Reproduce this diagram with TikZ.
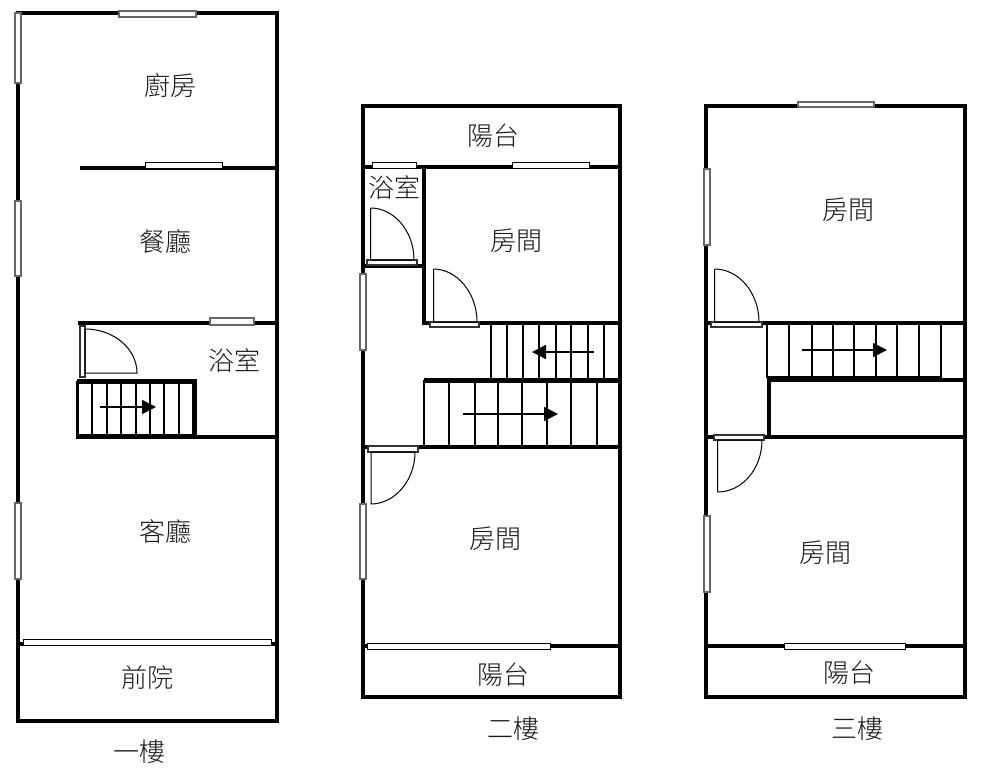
\documentclass[tikz,border=0pt]{standalone}
\usepackage{fontspec}
\newfontfamily\cjk{Noto Sans CJK TC Light}
\usepackage{tikz}
\usetikzlibrary{calc, positioning, arrows.meta}

\tikzset{
    wall/.style={line width=4pt, line cap=rect},
    thickwall/.style={line width=5pt, line cap=butt},
    winbox/.style={draw=black!60, line width=1.5pt, fill=white},
    thinwin/.style={draw=black, line width=0.9pt, fill=white},
    jamb/.style={draw=black!80, line width=1.1pt, fill=white},
    leaf/.style={draw=black, line width=1pt},
    tread/.style={line width=1.8pt},
    runarrow/.style={line width=1.5pt, -{Triangle[length=14pt, width=14pt]}},
    roomlabel/.style={font=\cjk\fontsize{26}{30}\selectfont, inner sep=0pt, text=black!90}
}

\begin{document}
\begin{tikzpicture}[x=1pt, y=-1pt]
    \useasboundingbox (0,0) rectangle (1004,774);

    % First floor
    \draw[wall] (18,13) rectangle (277,721);
    \draw[wall] (18,644) -- (277,644);
    \draw[wall] (82,168) -- (277,168);
    \draw[wall] (80,323) -- (277,323);
    \foreach \xa/\ya/\xb/\yb in {119/11/196/17, 15/13/21/83, 15/201/21/276, 15/503/21/579, 210/318/254/325}
        \draw[winbox] (\xa,\ya) rectangle (\xb,\yb);
    \foreach \xa/\ya/\xb/\yb in {23/639/271/645, 145/162/222/168}
        \draw[thinwin] (\xa,\ya) rectangle (\xb,\yb);
    % Door of the bath
    \draw[jamb] (80,326) rectangle (85,377);
    \draw[leaf] (85,329) -- (85,373) -- (137,373) .. controls (137,349) and (114,329) .. (85,329);
    % Stairs
    \draw[thickwall] (77,381) -- (197,381);
    \draw[thickwall] (194.5,381) -- (194.5,437);
    \draw[thickwall] (76,436.5) -- (197,436.5);
    \draw[wall] (197,436.5) -- (277,436.5);
    \draw[line width=2.2pt] (77.5,381) -- (77.5,436);
    \foreach \x in {92.3,106.7,121,135.7,150,164.3,179.3}
        \draw[tread] (\x,381) -- (\x,436);
    \draw[runarrow] (100,407) -- (156,407);

    % Second floor
    \draw[wall] (363,106) rectangle (620,697);
    \draw[wall] (363,167) -- (620,167);
    \draw[wall] (424,167) -- (424,323);
    \draw[wall] (363,266) -- (424,266);
    \draw[wall] (424,323) -- (620,323);
    \draw[wall] (363,646) -- (620,646);
    \draw[wall] (365,446.5) -- (366,446.5);
    \draw[wall] (418,446.5) -- (620,446.5);
    \draw[thickwall] (424,380) -- (622,380);
    \foreach \xa/\ya/\xb/\yb in {360/274/366/350, 360/504/366/579}
        \draw[winbox] (\xa,\ya) rectangle (\xb,\yb);
    \foreach \xa/\ya/\xb/\yb in {372/162/416/168, 512/162/589/168, 367/643/550/649}
        \draw[thinwin] (\xa,\ya) rectangle (\xb,\yb);
    % Doors
    \draw[jamb] (367,260) rectangle (417,265);
    \draw[leaf] (370.5,208) -- (370.5,260) -- (414,260) .. controls (414,231) and (394,208) .. (370.5,208);
    \draw[jamb] (430,322) rectangle (479,327);
    \draw[leaf] (433.5,269) -- (433.5,322) -- (477,322) .. controls (477,293) and (457,269) .. (433.5,269);
    \draw[jamb] (368,446) rectangle (418,452);
    \draw[leaf] (371,504) -- (371,452) -- (415,452) .. controls (415,480) and (395,504) .. (371,504);
    % Stairs
    \foreach \x in {490.7,506.7,523.3,539,556,571.3,587.7,604.3}
        \draw[tread] (\x,323) -- (\x,380);
    \foreach \x in {424,449.3,475,498.3,522.3,547.3,571.3,596.7}
        \draw[tread] (\x,380) -- (\x,446);
    \draw[runarrow] (594,352) -- (532,352);
    \draw[runarrow] (463,414) -- (558,414);

    % Third floor
    \draw[wall] (706,106) rectangle (965,697);
    \draw[wall] (706,646) -- (965,646);
    \draw[wall] (762,323) -- (965,323);
    \draw[wall] (706,323) -- (710,323);
    \draw[wall] (769,380) -- (965,380);
    \draw[wall] (769,380) -- (769,436.5);
    \draw[wall] (764,436.5) -- (965,436.5);
    \draw[wall] (706,436.5) -- (712,436.5);
    \draw[line width=6pt] (767,379) -- (941,379);
    \foreach \xa/\ya/\xb/\yb in {798/102/874/107, 704/169/710/245, 704/516/710/592}
        \draw[winbox] (\xa,\ya) rectangle (\xb,\yb);
    \draw[thinwin] (784,643) rectangle (905,649);
    % Doors
    \draw[jamb] (711,322) rectangle (762,327);
    \draw[leaf] (714.5,269) -- (714.5,322) -- (759,322) .. controls (759,293) and (739,269) .. (714.5,269);
    \draw[jamb] (714,435) rectangle (764,440);
    \draw[leaf] (717.5,492) -- (717.5,440) -- (762,440) .. controls (762,469) and (742,492) .. (717.5,492);
    % Stairs
    \foreach \x in {766.7,789,811.7,833,854,875.7,897.3,919,941}
        \draw[tread] (\x,323) -- (\x,378);
    \draw[runarrow] (802,350) -- (887,350);

    % Labels
    \node[roomlabel] (kitchen) at (170,85) {廚房};
    \node[roomlabel] (dining) at (165,242) {餐廳};
    \node[roomlabel] (bathone) at (234,361) {浴室};
    \node[roomlabel] (living) at (165,532) {客廳};
    \node[roomlabel] (yard) at (147,678) {前院};
    \node[roomlabel] (floorone) at (139,752) {一樓};

    \node[roomlabel] (balconyup) at (493,136) {陽台};
    \node[roomlabel] (bathtwo) at (394,188) {浴室};
    \node[roomlabel] (roomup) at (516,241) {房間};
    \node[roomlabel] (roomdown) at (495,539) {房間};
    \node[roomlabel] (balconydown) at (503,675) {陽台};
    \node[roomlabel] (floortwo) at (513,729) {二樓};

    \node[roomlabel] (roomback) at (848,210) {房間};
    \node[roomlabel] (roomfront) at (825,553) {房間};
    \node[roomlabel] (balconyfront) at (849,673) {陽台};
    \node[roomlabel] (floorthree) at (857,729) {三樓};
\end{tikzpicture}
\end{document}
